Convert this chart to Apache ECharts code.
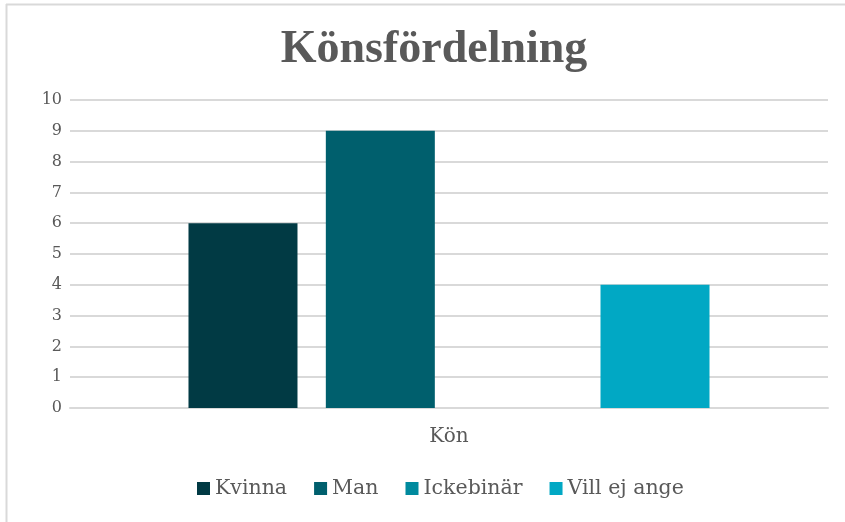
<!DOCTYPE html>
<html>
<head>
<meta charset="utf-8">
<script src="https://cdn.jsdelivr.net/npm/echarts@6/dist/echarts.min.js"></script>
<style>
html,body{margin:0;padding:0;background:#fff;}
#chart{width:845px;height:522px;}
</style>
</head>
<body>
<div id="chart"></div>
<script>
var categories = ['Kön'];
var seriesNames = ['Kvinna', 'Man', 'Ickebinär', 'Vill ej ange'];
var seriesValues = [[6], [9], [0], [4]];
var colors = ['#013a44', '#005f6d', '#008a9e', '#01a8c4'];

var titleFont = '"Liberation Serif", serif';
var fontFam = '"DejaVu Serif", serif';
var txt = '#595959';

var series = [];
for (var i = 0; i < seriesNames.length; i++) {
    series.push({
        name: seriesNames[i],
        type: 'bar',
        barWidth: 109,
        barGap: '26%',
        itemStyle: { color: colors[i] },
        data: seriesValues[i]
    });
}

var myChart = echarts.init(document.getElementById('chart'), null, { renderer: 'canvas' });
var option = {
    animation: false,
    title: {
        text: 'Könsfördelning',
        left: 429,
        top: 22,
        textAlign: 'center',
        textStyle: { fontFamily: titleFont, fontWeight: 'bold', fontSize: 46, color: txt }
    },
    legend: {
        data: seriesNames,
        bottom: 18,
        left: 192,
        itemWidth: 13,
        itemHeight: 13,
        itemGap: 27,
        icon: 'rect',
        textStyle: { fontFamily: fontFam, fontSize: 20.5, color: txt }
    },
    grid: { left: 70, right: 17, top: 100, bottom: 114 },
    xAxis: {
        type: 'category',
        data: categories,
        axisLine: { lineStyle: { color: '#d9d9d9', width: 2 } },
        axisTick: { show: false },
        axisLabel: { fontFamily: fontFam, fontSize: 20, color: txt, margin: 19 }
    },
    yAxis: {
        type: 'value',
        min: 0,
        max: 10,
        interval: 1,
        axisLine: { show: false },
        axisTick: { show: false },
        splitLine: { lineStyle: { color: '#d9d9d9', width: 2 } },
        axisLabel: { fontFamily: fontFam, fontSize: 16, color: txt, margin: 8 }
    },
    graphic: [
        { type: 'line', shape: { x1: 6.5, y1: 4, x2: 6.5, y2: 522 }, style: { stroke: '#d9d9d9', lineWidth: 2 } },
        { type: 'line', shape: { x1: 6, y1: 4.5, x2: 845, y2: 4.5 }, style: { stroke: '#d9d9d9', lineWidth: 2 } }
    ],
    series: series
};
myChart.setOption(option);
</script>
</body>
</html>
